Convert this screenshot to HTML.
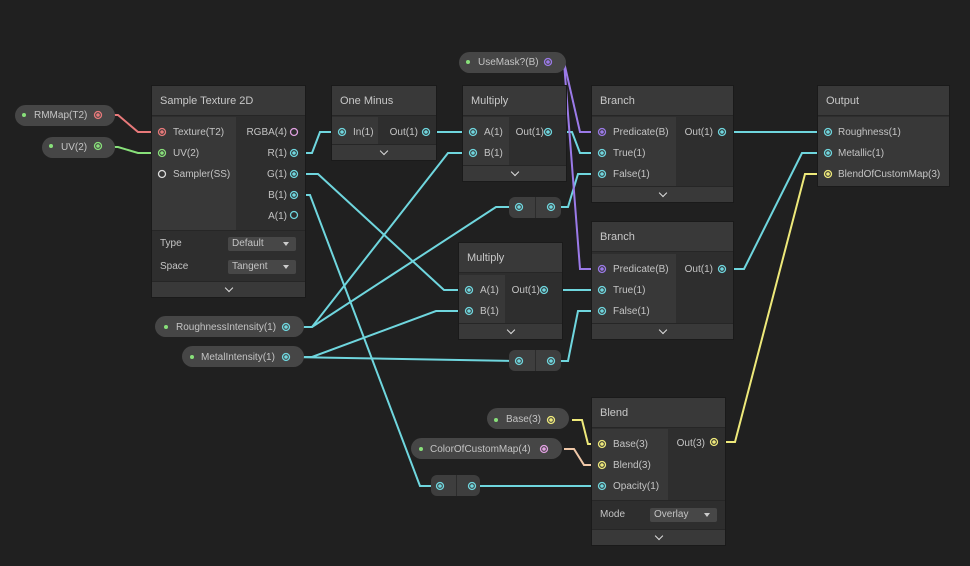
<!DOCTYPE html>
<html><head><meta charset="utf-8"><style>
body{margin:0;background:#202020;width:970px;height:566px;overflow:hidden;position:relative;font-family:"Liberation Sans",sans-serif;font-size:10px;color:#c4c4c4}
.n{position:absolute;background:#2e2e2e;box-shadow:0 0 0 1px #1a1a1a}
.h{position:absolute;left:0;right:0;top:0;height:30px;background:#393939;border-bottom:1px solid #262626;font-size:11px;line-height:30px;padding-left:8px;box-sizing:border-box;color:#c8c8c8}
.lc{position:absolute;background:#383838}
.ft{position:absolute;left:0;right:0;bottom:0;height:15px;background:#393939;border-top:1px solid #262626}
.ft:after{content:"";position:absolute;left:50%;top:3px;width:5px;height:5px;border-right:1.5px solid #ddd;border-bottom:1.5px solid #ddd;transform:translateX(-50%) rotate(45deg)}
.t{position:absolute;white-space:nowrap}
.p{position:absolute;background:#464646;border-radius:11px;height:21px}
.dd{position:absolute;background:#474747;border-radius:2px;height:14px;line-height:14px;padding-left:4px;box-sizing:border-box}
.dd:after{content:"";position:absolute;right:7px;top:5px;border-left:3px solid transparent;border-right:3px solid transparent;border-top:4px solid #ccc}
.r{position:absolute;background:#3e3e3e;border-radius:6px;height:21px}
.r:after{content:"";position:absolute;left:50%;top:0;bottom:0;width:1px;background:#2c2c2c}
</style></head><body>
<svg width="970" height="566" style="position:absolute;left:0;top:0" fill="none" stroke-width="2">
<g stroke="#e8797a"><path d="M105 115 H118 L138 132 H160"/></g>
<g stroke="#88e07a"><path d="M105 147 H118 L138 153 H160"/></g>
<g stroke="#6fd6de">
<path d="M296 153 H312 L320 132 H340"/>
<path d="M428 132 H471"/>
<path d="M296 174 H318 L444 290 H467"/>
<path d="M296 195 H310 L420 486 H437"/>
<path d="M290 327 H312 L448 153 H471"/>
<path d="M290 327 H312 L496 207 H517"/>
<path d="M290 357 H312 L436 311 H467"/>
<path d="M290 357 L517 361"/>
<path d="M549 132 H572 L580 153 H600"/>
<path d="M552 207 H568 L578 174 H600"/>
<path d="M545 290 H600"/>
<path d="M552 361 H568 L578 311 H600"/>
<path d="M724 132 H826"/>
<path d="M724 269 H744 L802 153 H826"/>
<path d="M472 486 H600"/>
</g>
<g stroke="#9b7ae8"><path d="M552 62 H564 L580 132 H600"/><path d="M552 62 H564 L580 269 H600"/></g>
<g stroke="#eee97a"><path d="M716 442 H735 L805 174 H826"/><path d="M572 420 H582 L588 444 H600"/></g>
<g stroke="#f0c8a8"><path d="M564 449 H574 L584 465 H600"/></g>
</svg>

<div class="p" style="left:15px;top:105px;width:100px"><span class="t" style="left:19px;top:5px">RMMap(T2)</span></div>
<div class="p" style="left:42px;top:137px;width:73px"><span class="t" style="left:19px;top:5px">UV(2)</span></div>
<div class="p" style="left:459px;top:52px;width:107px"><span class="t" style="left:19px;top:5px">UseMask?(B)</span></div>
<div class="p" style="left:155px;top:316px;width:149px"><span class="t" style="left:21px;top:6px">RoughnessIntensity(1)</span></div>
<div class="p" style="left:182px;top:346px;width:122px"><span class="t" style="left:19px;top:6px">MetalIntensity(1)</span></div>
<div class="p" style="left:487px;top:408px;width:82px"><span class="t" style="left:19px;top:6px">Base(3)</span></div>
<div class="p" style="left:411px;top:438px;width:151px"><span class="t" style="left:19px;top:6px">ColorOfCustomMap(4)</span></div>
<div class="r" style="left:509px;top:197px;width:52px"></div>
<div class="r" style="left:509px;top:350px;width:52px"></div>
<div class="r" style="left:431px;top:475px;width:49px"></div>

<div class="n" style="left:152px;top:86px;width:153px;height:211px">
<div class="h">Sample Texture 2D</div>
<div class="lc" style="left:0;top:31px;width:84px;height:113px"></div>
<span class="t" style="left:21px;top:41px">Texture(T2)</span>
<span class="t" style="left:21px;top:62px">UV(2)</span>
<span class="t" style="left:21px;top:83px">Sampler(SS)</span>
<span class="t" style="right:18px;top:41px">RGBA(4)</span>
<span class="t" style="right:18px;top:62px">R(1)</span>
<span class="t" style="right:18px;top:83px">G(1)</span>
<span class="t" style="right:18px;top:104px">B(1)</span>
<span class="t" style="right:18px;top:125px">A(1)</span>
<div style="position:absolute;left:0;right:0;top:144px;height:1px;background:#262626"></div>
<span class="t" style="left:8px;top:152px">Type</span>
<span class="t" style="left:8px;top:175px">Space</span>
<div class="dd" style="left:76px;top:151px;width:68px">Default</div>
<div class="dd" style="left:76px;top:174px;width:68px">Tangent</div>
<div class="ft"></div></div>

<div class="n" style="left:332px;top:86px;width:104px;height:74px">
<div class="h">One Minus</div>
<div class="lc" style="left:0;top:31px;width:46px;height:29px"></div>
<span class="t" style="left:21px;top:41px">In(1)</span>
<span class="t" style="right:18px;top:41px">Out(1)</span>
<div class="ft"></div></div>

<div class="n" style="left:463px;top:86px;width:103px;height:95px">
<div class="h">Multiply</div>
<div class="lc" style="left:0;top:31px;width:46px;height:48px"></div>
<span class="t" style="left:21px;top:41px">A(1)</span>
<span class="t" style="left:21px;top:62px">B(1)</span>
<span class="t" style="right:22px;top:41px">Out(1)</span>
<div class="ft"></div></div>

<div class="n" style="left:459px;top:243px;width:103px;height:96px">
<div class="h">Multiply</div>
<div class="lc" style="left:0;top:32px;width:46px;height:48px"></div>
<span class="t" style="left:21px;top:42px">A(1)</span>
<span class="t" style="left:21px;top:63px">B(1)</span>
<span class="t" style="right:22px;top:42px">Out(1)</span>
<div class="ft"></div></div>

<div class="n" style="left:592px;top:86px;width:141px;height:116px">
<div class="h">Branch</div>
<div class="lc" style="left:0;top:31px;width:84px;height:69px"></div>
<span class="t" style="left:21px;top:41px">Predicate(B)</span>
<span class="t" style="left:21px;top:62px">True(1)</span>
<span class="t" style="left:21px;top:83px">False(1)</span>
<span class="t" style="right:20px;top:41px">Out(1)</span>
<div class="ft"></div></div>

<div class="n" style="left:592px;top:222px;width:141px;height:117px">
<div class="h">Branch</div>
<div class="lc" style="left:0;top:32px;width:84px;height:69px"></div>
<span class="t" style="left:21px;top:42px">Predicate(B)</span>
<span class="t" style="left:21px;top:63px">True(1)</span>
<span class="t" style="left:21px;top:84px">False(1)</span>
<span class="t" style="right:20px;top:42px">Out(1)</span>
<div class="ft"></div></div>

<div class="n" style="left:818px;top:86px;width:131px;height:100px">
<div class="h">Output</div>
<div class="lc" style="left:0;top:31px;width:131px;height:69px"></div>
<span class="t" style="left:20px;top:41px">Roughness(1)</span>
<span class="t" style="left:20px;top:62px">Metallic(1)</span>
<span class="t" style="left:20px;top:83px">BlendOfCustomMap(3)</span>
</div>

<div class="n" style="left:592px;top:398px;width:133px;height:147px">
<div class="h">Blend</div>
<div class="lc" style="left:0;top:31px;width:76px;height:71px"></div>
<span class="t" style="left:21px;top:41px">Base(3)</span>
<span class="t" style="left:21px;top:62px">Blend(3)</span>
<span class="t" style="left:21px;top:83px">Opacity(1)</span>
<span class="t" style="right:20px;top:40px">Out(3)</span>
<div style="position:absolute;left:0;right:0;top:102px;height:1px;background:#262626"></div>
<span class="t" style="left:8px;top:111px">Mode</span>
<div class="dd" style="left:58px;top:110px;width:67px">Overlay</div>
<div class="ft"></div></div>

<svg width="970" height="566" style="position:absolute;left:0;top:0">
<g fill="none" stroke-width="1.3">
<g stroke="#e8797a"><circle cx="98" cy="115" r="3.5"/><circle cx="162" cy="132" r="3.5"/></g>
<g stroke="#88e07a"><circle cx="98" cy="146" r="3.5"/><circle cx="162" cy="153" r="3.5"/></g>
<g stroke="#ddd"><circle cx="162" cy="174" r="3.5"/></g>
<g stroke="#e0a0e0"><circle cx="294" cy="132" r="3.5"/><circle cx="544" cy="449" r="3.5"/></g>
<g stroke="#6fd6de">
<circle cx="294" cy="153" r="3.5"/><circle cx="294" cy="174" r="3.5"/><circle cx="294" cy="195" r="3.5"/><circle cx="294" cy="215" r="3.5"/>
<circle cx="342" cy="132" r="3.5"/><circle cx="426" cy="132" r="3.5"/>
<circle cx="473" cy="132" r="3.5"/><circle cx="473" cy="153" r="3.5"/><circle cx="548" cy="132" r="3.5"/>
<circle cx="469" cy="290" r="3.5"/><circle cx="469" cy="311" r="3.5"/><circle cx="544" cy="290" r="3.5"/>
<circle cx="602" cy="153" r="3.5"/><circle cx="602" cy="174" r="3.5"/><circle cx="722" cy="132" r="3.5"/>
<circle cx="602" cy="290" r="3.5"/><circle cx="602" cy="311" r="3.5"/><circle cx="722" cy="269" r="3.5"/>
<circle cx="828" cy="132" r="3.5"/><circle cx="828" cy="153" r="3.5"/>
<circle cx="286" cy="327" r="3.5"/><circle cx="286" cy="357" r="3.5"/>
<circle cx="519" cy="207" r="3.5"/><circle cx="551" cy="207" r="3.5"/>
<circle cx="519" cy="361" r="3.5"/><circle cx="551" cy="361" r="3.5"/>
<circle cx="440" cy="486" r="3.5"/><circle cx="472" cy="486" r="3.5"/>
<circle cx="602" cy="486" r="3.5"/>
</g>
<g stroke="#9b7ae8"><circle cx="548" cy="62" r="3.5"/><circle cx="602" cy="132" r="3.5"/><circle cx="602" cy="269" r="3.5"/></g>
<g stroke="#eee97a"><circle cx="551" cy="420" r="3.5"/><circle cx="602" cy="444" r="3.5"/><circle cx="602" cy="465" r="3.5"/><circle cx="714" cy="442" r="3.5"/><circle cx="828" cy="174" r="3.5"/></g>
</g>
<g>
<circle cx="98" cy="115" r="1.8" fill="#e8797a"/><circle cx="162" cy="132" r="1.8" fill="#e8797a"/>
<circle cx="98" cy="146" r="1.8" fill="#88e07a"/><circle cx="162" cy="153" r="1.8" fill="#88e07a"/>
<circle cx="544" cy="449" r="1.8" fill="#e0a0e0"/>
<g fill="#6fd6de">
<circle cx="294" cy="153" r="1.8"/><circle cx="294" cy="174" r="1.8"/><circle cx="294" cy="195" r="1.8"/>
<circle cx="342" cy="132" r="1.8"/><circle cx="426" cy="132" r="1.8"/>
<circle cx="473" cy="132" r="1.8"/><circle cx="473" cy="153" r="1.8"/><circle cx="548" cy="132" r="1.8"/>
<circle cx="469" cy="290" r="1.8"/><circle cx="469" cy="311" r="1.8"/><circle cx="544" cy="290" r="1.8"/>
<circle cx="602" cy="153" r="1.8"/><circle cx="602" cy="174" r="1.8"/><circle cx="722" cy="132" r="1.8"/>
<circle cx="602" cy="290" r="1.8"/><circle cx="602" cy="311" r="1.8"/><circle cx="722" cy="269" r="1.8"/>
<circle cx="828" cy="132" r="1.8"/><circle cx="828" cy="153" r="1.8"/>
<circle cx="286" cy="327" r="1.8"/><circle cx="286" cy="357" r="1.8"/>
<circle cx="519" cy="207" r="1.8"/><circle cx="551" cy="207" r="1.8"/>
<circle cx="519" cy="361" r="1.8"/><circle cx="551" cy="361" r="1.8"/>
<circle cx="440" cy="486" r="1.8"/><circle cx="472" cy="486" r="1.8"/><circle cx="602" cy="486" r="1.8"/>
</g>
<g fill="#9b7ae8"><circle cx="548" cy="62" r="1.8"/><circle cx="602" cy="132" r="1.8"/><circle cx="602" cy="269" r="1.8"/></g>
<g fill="#eee97a"><circle cx="551" cy="420" r="1.8"/><circle cx="602" cy="444" r="1.8"/><circle cx="602" cy="465" r="1.8"/><circle cx="714" cy="442" r="1.8"/><circle cx="828" cy="174" r="1.8"/></g>
<g fill="#88e07a"><circle cx="24" cy="115" r="2"/><circle cx="51" cy="146" r="2"/><circle cx="468" cy="62" r="2"/><circle cx="166" cy="327" r="2"/><circle cx="192" cy="357" r="2"/><circle cx="496" cy="420" r="2"/><circle cx="421" cy="449" r="2"/></g>
</g>
</svg>
</body></html>
